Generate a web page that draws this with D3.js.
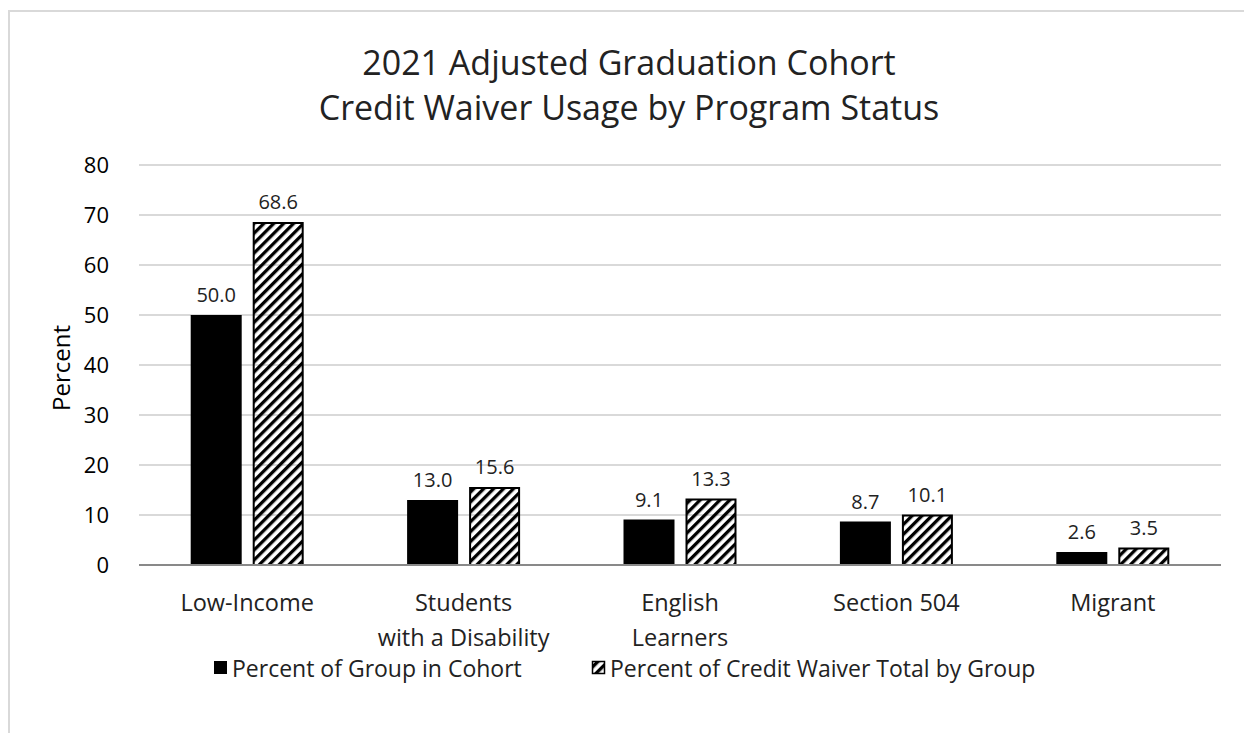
<!DOCTYPE html>
<html>
<head>
<meta charset="utf-8">
<script src="https://cdn.jsdelivr.net/npm/d3@7"></script>
<style>
  body { margin: 0; background: #fff; }
  svg { display: block; font-family: "Open Sans", "Noto Sans", sans-serif; }
</style>
</head>
<body>
<svg id="chart" width="1244" height="733"></svg>
<script>
// chart data
var categories = [["Low-Income"], ["Students", "with a Disability"], ["English", "Learners"], ["Section 504"], ["Migrant"]];
var cohortPct = [50.0, 13.0, 9.1, 8.7, 2.6];
var waiverPct = [68.6, 15.6, 13.3, 10.1, 3.5];
var seriesNames = ["Percent of Group in Cohort", "Percent of Credit Waiver Total by Group"];
var yTicks = [0, 10, 20, 30, 40, 50, 60, 70, 80];
var titleLines = ["2021 Adjusted Graduation Cohort", "Credit Waiver Usage by Program Status"];

var svg = d3.select("#chart");
var plotL = 139, plotR = 1221, plotT = 165, plotB = 565;

// hatch pattern
var defs = svg.append("defs");
defs.append("pattern")
    .attr("id", "hatch")
    .attr("patternUnits", "userSpaceOnUse")
    .attr("width", 7).attr("height", 7)
    .attr("patternTransform", "rotate(45)")
    .append("rect")
    .attr("width", 3.3).attr("height", 7)
    .attr("fill", "#000");

// outer frame
svg.append("rect")
    .attr("x", 9).attr("y", 11)
    .attr("width", 1300).attr("height", 800)
    .attr("fill", "#fff")
    .attr("stroke", "#d9d9d9").attr("stroke-width", 2);

var x = d3.scaleBand().domain(d3.range(categories.length)).range([plotL, plotR]);
var y = d3.scaleLinear().domain([0, 80]).range([plotB, plotT]);

// gridlines
svg.append("g").selectAll("line")
    .data(yTicks.filter(function(d) { return d > 0; }))
    .enter().append("line")
    .attr("x1", plotL).attr("x2", plotR)
    .attr("y1", function(d) { return y(d); })
    .attr("y2", function(d) { return y(d); })
    .attr("stroke", "#d9d9d9").attr("stroke-width", 2);

// y axis labels
var yAxis = d3.axisLeft(y).tickValues(yTicks).tickSize(0).tickPadding(0);
var yg = svg.append("g").attr("transform", "translate(109,0)").call(yAxis);
yg.select(".domain").remove();
yg.selectAll("text").attr("font-size", 22).attr("fill", "#000")
    .attr("font-family", "'Open Sans', sans-serif");

svg.append("text")
    .attr("transform", "translate(70,368) rotate(-90)")
    .attr("text-anchor", "middle")
    .attr("font-size", 24)
    .text("Percent");

// bars
var barW = 51, gap = 11;
var series = [
  {vals: cohortPct, fill: "#000", off: -gap / 2 - barW},
  {vals: waiverPct, fill: "url(#hatch)", off: gap / 2}
];
series.forEach(function(s, si) {
  var g = svg.append("g");
  g.selectAll("rect").data(s.vals).enter().append("rect")
    .attr("x", function(d, i) { return x(i) + x.bandwidth() / 2 + s.off + (si ? 1 : 0); })
    .attr("y", function(d) { return y(d) + (si ? 1 : 0); })
    .attr("width", barW - (si ? 2 : 0))
    .attr("height", function(d) { return plotB - y(d) - (si ? 1 : 0); })
    .attr("fill", s.fill)
    .attr("stroke", si ? "#000" : "none")
    .attr("stroke-width", 2);
  g.selectAll("text").data(s.vals).enter().append("text")
    .attr("x", function(d, i) { return x(i) + x.bandwidth() / 2 + s.off + barW / 2; })
    .attr("y", function(d) { return y(d) - 13; })
    .attr("text-anchor", "middle")
    .attr("font-size", 20)
    .attr("fill", "#222")
    .text(function(d) { return d.toFixed(1); });
});

// baseline
svg.append("line")
    .attr("x1", plotL).attr("x2", plotR)
    .attr("y1", plotB).attr("y2", plotB)
    .attr("stroke", "#898989").attr("stroke-width", 2);

// x labels
var xl = svg.append("g").selectAll("text").data(categories).enter().append("text")
    .attr("x", function(d, i) { return x(i) + x.bandwidth() / 2; })
    .attr("y", 611)
    .attr("text-anchor", "middle")
    .attr("font-size", 23.5)
    .attr("fill", "#222");
xl.selectAll("tspan").data(function(d) { return d; }).enter().append("tspan")
    .attr("x", function() { return this.parentNode.getAttribute("x"); })
    .attr("dy", function(d, i) { return i ? 35 : 0; })
    .text(function(d) { return d; });

// title
svg.append("g").selectAll("text").data(titleLines).enter().append("text")
    .attr("x", 629)
    .attr("y", function(d, i) { return 75 + i * 45; })
    .attr("text-anchor", "middle")
    .attr("font-size", 34)
    .attr("fill", "#222")
    .text(function(d) { return d; });

// legend
var legend = [
  {x: 214, fill: "#000", stroke: "none"},
  {x: 592, fill: "url(#hatch)", stroke: "#000"}
];
legend.forEach(function(l, i) {
  svg.append("rect")
    .attr("x", l.x + (i ? 0.5 : 0)).attr("y", 661 + (i ? 0.5 : 0))
    .attr("width", 13 - (i ? 1 : 0)).attr("height", 13 - (i ? 1 : 0))
    .attr("fill", l.fill).attr("stroke", l.stroke).attr("stroke-width", 1.5);
  svg.append("text")
    .attr("x", l.x + 18).attr("y", 677)
    .attr("font-size", 23)
    .attr("fill", "#222")
    .text(seriesNames[i]);
});
</script>
</body>
</html>
